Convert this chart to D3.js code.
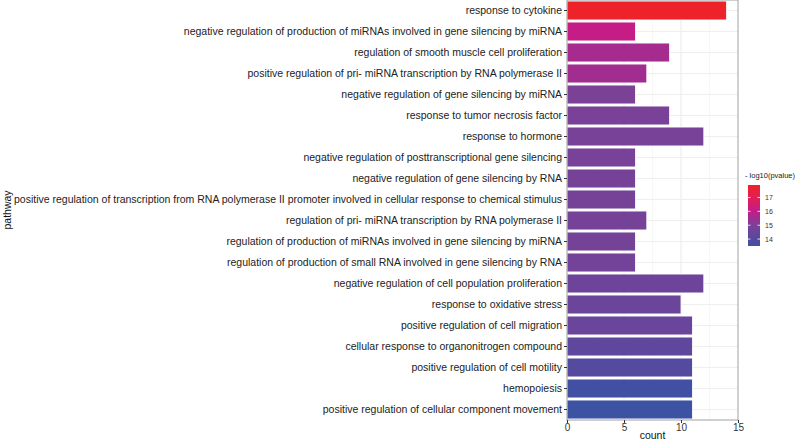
<!DOCTYPE html>
<html>
<head>
<meta charset="utf-8">
<script src="https://cdn.jsdelivr.net/npm/d3@7"></script>
<style>
  body { margin: 0; background: #fff; }
  svg { font-family: "Liberation Sans", Arial, sans-serif; }
</style>
</head>
<body>
<svg width="800" height="442"></svg>
<script>
// pathways, top to bottom
var pathways = [
    "response to cytokine",
    "negative regulation of production of miRNAs involved in gene silencing by miRNA",
    "regulation of smooth muscle cell proliferation",
    "positive regulation of pri- miRNA transcription by RNA polymerase II",
    "negative regulation of gene silencing by miRNA",
    "response to tumor necrosis factor",
    "response to hormone",
    "negative regulation of posttranscriptional gene silencing",
    "negative regulation of gene silencing by RNA",
    "positive regulation of transcription from RNA polymerase II promoter involved in cellular response to chemical stimulus",
    "regulation of pri- miRNA transcription by RNA polymerase II",
    "regulation of production of miRNAs involved in gene silencing by miRNA",
    "regulation of production of small RNA involved in gene silencing by RNA",
    "negative regulation of cell population proliferation",
    "response to oxidative stress",
    "positive regulation of cell migration",
    "cellular response to organonitrogen compound",
    "positive regulation of cell motility",
    "hemopoiesis",
    "positive regulation of cellular component movement"
];
var counts = [14, 6, 9, 7, 6, 9, 12, 6, 6, 6, 7, 6, 6, 12, 10, 11, 11, 11, 11, 11];
var logp = [17.9, 16.1, 15.6, 15.55, 15.0, 14.95, 14.9, 14.88, 14.86, 14.84, 14.82, 14.8, 14.78,
            14.6, 14.55, 14.5, 14.2, 13.95, 13.6, 13.5];
var xTicks = [0, 5, 10, 15];
var legendTicks = [14, 15, 16, 17];

var svg = d3.select("svg");
var margin = {top: 0, right: 62, bottom: 22, left: 567};
var width = +svg.attr("width") - margin.left - margin.right,
    height = +svg.attr("height") - margin.top - margin.bottom;

var x = d3.scaleLinear().domain([0, 15]).range([0, width]);
var y = d3.scaleBand().domain(pathways).range([0, height]).paddingInner(0.1).paddingOuter(0.05);
var z = d3.scaleLinear()
    .domain([13.5, 14, 15, 16, 17, 17.9])
    .range(["#3c52a3", "#57499e", "#7b4197", "#c21c8a", "#e21f55", "#ee2229"]);

var g = svg.append("g").attr("transform", "translate(" + margin.left + "," + margin.top + ")");

// grid
g.selectAll(".minor").data([2.5, 7.5, 12.5]).enter().append("line")
    .attr("x1", function(d) { return x(d); }).attr("x2", function(d) { return x(d); })
    .attr("y1", 0).attr("y2", height)
    .attr("stroke", "#f2f2f2").attr("stroke-width", 0.6);
g.selectAll(".major").data([5, 10]).enter().append("line")
    .attr("x1", function(d) { return x(d); }).attr("x2", function(d) { return x(d); })
    .attr("y1", 0).attr("y2", height)
    .attr("stroke", "#e6e6e6").attr("stroke-width", 0.9);
g.selectAll(".hgrid").data(pathways).enter().append("line")
    .attr("x1", 0).attr("x2", width)
    .attr("y1", function(d) { return y(d) + y.bandwidth() / 2; })
    .attr("y2", function(d) { return y(d) + y.bandwidth() / 2; })
    .attr("stroke", "#ececec").attr("stroke-width", 0.9);

// bars
g.selectAll(".bar").data(pathways).enter().append("rect")
    .attr("x", 0)
    .attr("y", function(d) { return y(d); })
    .attr("width", function(d, i) { return x(counts[i]); })
    .attr("height", y.bandwidth())
    .attr("fill", function(d, i) { return z(logp[i]); })
    .attr("stroke", "#fff").attr("stroke-width", 0.8);

// panel border
g.append("rect").attr("x", 0).attr("y", 0).attr("width", width).attr("height", height)
    .attr("fill", "none").attr("stroke", "#a0a0a0").attr("stroke-width", 1);

// axes
var yAxis = g.append("g").call(d3.axisLeft(y).tickSize(3).tickPadding(2));
yAxis.select(".domain").remove();
yAxis.selectAll("text").attr("font-size", "10.5px").attr("fill", "#222");
yAxis.selectAll("line").attr("stroke", "#333");

var xAxis = g.append("g").attr("transform", "translate(0," + height + ")")
    .call(d3.axisBottom(x).tickValues(xTicks).tickSize(3).tickPadding(1));
xAxis.select(".domain").remove();
xAxis.selectAll("text").attr("font-size", "10px").attr("fill", "#333");
xAxis.selectAll("line").attr("stroke", "#333");

svg.append("text").attr("x", margin.left + width / 2).attr("y", 439)
    .attr("text-anchor", "middle").attr("font-size", "10.5px").attr("fill", "#111").text("count");
svg.append("text").attr("transform", "translate(11," + (height / 2) + ") rotate(-90)")
    .attr("text-anchor", "middle").attr("font-size", "10.5px").attr("fill", "#111").text("pathway");

// legend
var lx = 748, ly = 185, lw = 12, lh = 61;
var ls = d3.scaleLinear().domain([13.5, 17.9]).range([ly + lh, ly]);
var defs = svg.append("defs");
var grad = defs.append("linearGradient").attr("id", "lg")
    .attr("x1", 0).attr("y1", 1).attr("x2", 0).attr("y2", 0);
z.domain().forEach(function(v) {
    grad.append("stop").attr("offset", (v - 13.5) / (17.9 - 13.5)).attr("stop-color", z(v));
});
svg.append("rect").attr("x", lx).attr("y", ly).attr("width", lw).attr("height", lh)
    .attr("fill", "url(#lg)");
svg.append("text").attr("x", 745).attr("y", 178).attr("font-size", "7.5px").attr("fill", "#222")
    .text("- log10(pvalue)");
var lt = svg.append("g");
legendTicks.forEach(function(t) {
    lt.append("line").attr("x1", lx).attr("x2", lx + 2.5).attr("y1", ls(t)).attr("y2", ls(t))
        .attr("stroke", "#fff").attr("stroke-width", 0.8);
    lt.append("line").attr("x1", lx + lw - 2.5).attr("x2", lx + lw).attr("y1", ls(t)).attr("y2", ls(t))
        .attr("stroke", "#fff").attr("stroke-width", 0.8);
    lt.append("text").attr("x", lx + lw + 5).attr("y", ls(t) + 2.5)
        .attr("font-size", "7px").attr("fill", "#333").text(t);
});
</script>
</body>
</html>
